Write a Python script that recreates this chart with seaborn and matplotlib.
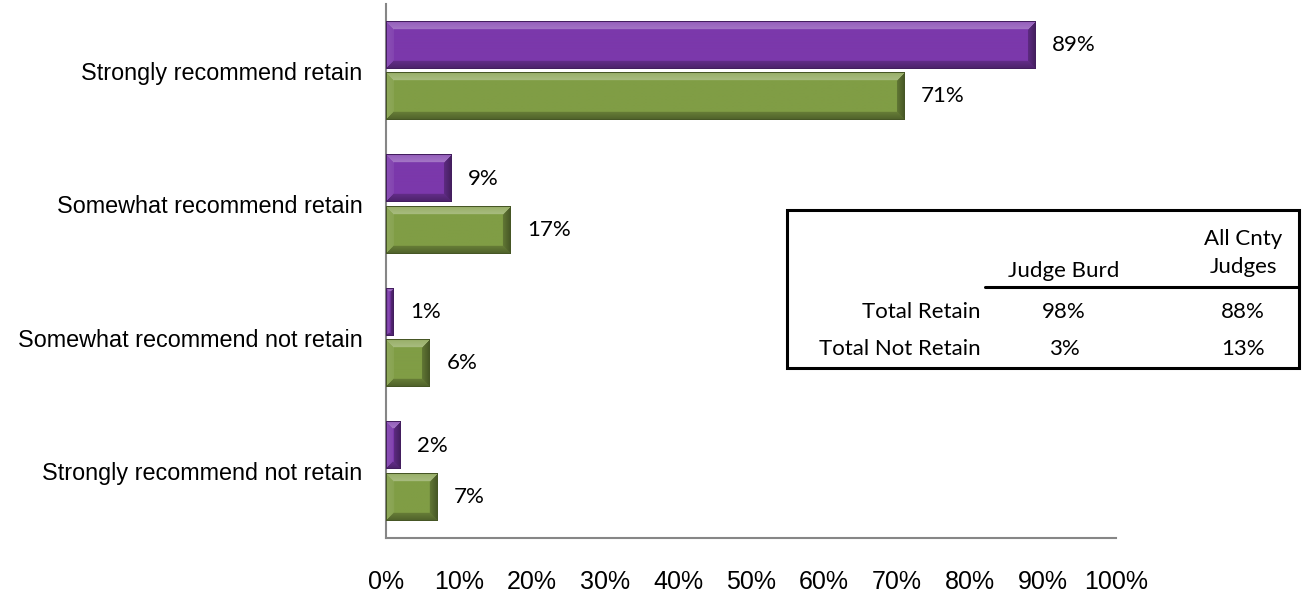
import matplotlib
matplotlib.use("Agg")
import matplotlib.pyplot as plt
import seaborn as sns
import numpy as np
import pandas as pd
from matplotlib.colors import to_rgb
from matplotlib.patches import Rectangle
from matplotlib.lines import Line2D

# ---------------- data ----------------
categories = [
    "Strongly recommend retain",
    "Somewhat recommend retain",
    "Somewhat recommend not retain",
    "Strongly recommend not retain",
]
series = ["Judge Burd", "All Cnty Judges"]
judge_burd = [89, 9, 1, 2]
all_cnty = [71, 17, 6, 7]
x_ticks = [0, 10, 20, 30, 40, 50, 60, 70, 80, 90, 100]

table_rows = ["Total Retain", "Total Not Retain"]
table_cols = ["Judge Burd", "All Cnty\nJudges"]
table_vals = [["98%", "88%"], ["3%", "13%"]]

colors = {"Judge Burd": "#7B38AB", "All Cnty Judges": "#809D45"}

df = pd.DataFrame({
    "category": categories * 2,
    "series": [series[0]] * 4 + [series[1]] * 4,
    "value": judge_burd + all_cnty,
})

W, H = 1307, 595
sns.set_style("white")
plt.rcParams["font.family"] = ["Liberation Sans", "DejaVu Sans"]
plt.rcParams["text.color"] = "black"
plt.rcParams["xtick.color"] = "black"
plt.rcParams["ytick.color"] = "black"

fig = plt.figure(figsize=(W / 100, H / 100), dpi=100)
ax = fig.add_axes([386 / W, 1 - 538 / H, 730 / W, 534 / H])

sns.barplot(data=df, y="category", x="value", hue="series", order=categories,
            hue_order=series, palette=colors, orient="h", width=0.77, gap=0.08,
            legend=False, ax=ax, saturation=1, edgecolor="none")

ax.set_xlim(0, 100)
ax.set_ylim(3.5, -0.5)
ax.set_xticks(x_ticks)
ax.set_xticklabels([f"{t}%" for t in x_ticks], fontsize=18)
ax.tick_params(axis="x", length=0, pad=23, labelcolor="black")
ax.tick_params(axis="y", length=0, pad=17, labelsize=16.8, labelcolor="black")
ax.set_xlabel("")
ax.set_ylabel("")
for s in ["top", "right"]:
    ax.spines[s].set_visible(False)
for s in ["left", "bottom"]:
    ax.spines[s].set_color("#868686")
    ax.spines[s].set_linewidth(1.5)


# bevel look on each bar
def bevel_image(color, wpx, hpx, b=8):
    base = np.array(to_rgb(color))
    hpx = max(int(round(hpx)), 2)
    wpx = max(int(round(wpx)), 2)
    ii, jj = np.mgrid[0:hpx, 0:wpx]
    d = np.stack([ii, hpx - 1 - ii, jj, wpx - 1 - jj])
    facet = d.argmin(axis=0)
    m = d.min(axis=0)
    b = min(b, hpx // 2, wpx // 2)
    img = np.tile(base, (hpx, wpx, 1))
    light = base + (1 - base) * 0.32
    dark = base * 0.62
    left = base + (1 - base) * 0.12
    right = base * 0.55
    shades = [light, dark, left, right]
    for k, sh in enumerate(shades):
        mask = (facet == k) & (m < b)
        t = (m[mask] / max(b, 1))[:, None]
        if k == 0:
            col = sh * (0.6 + 0.4 * t) + base * (0.4 - 0.4 * t)
        else:
            col = sh * (1 - 0.5 * t) + base * 0.5 * t
        img[mask] = col
    # thin dark rim
    rim = m == 0
    img[rim] = base * 0.55
    return np.clip(img, 0, 1)


px_per_x = 730 / 100
px_per_y = 534 / 4
for patch in list(ax.patches):
    x0, y0 = patch.get_x(), patch.get_y()
    w, h = patch.get_width(), patch.get_height()
    if w <= 0:
        continue
    col = patch.get_facecolor()
    img = bevel_image(col[:3], w * px_per_x, h * px_per_y)
    ax.imshow(img, extent=(x0, x0 + w, y0 + h, y0), aspect="auto",
              interpolation="bilinear", zorder=3)
    ax.annotate(f"{w:.0f}%", xy=(x0 + w, y0 + h / 2), xytext=(12, 0),
                textcoords="offset points", va="center", ha="left",
                fontsize=16, family=["Lato", "DejaVu Sans"], color="#000000")

ax.set_xlim(0, 100)
ax.set_ylim(3.5, -0.5)


# summary table
def fx(px):
    return px / W


def fy(py):
    return 1 - py / H


tfont = dict(family=["Lato", "DejaVu Sans"], fontsize=16, color="#000000")
fig.add_artist(Rectangle((fx(787), fy(368)), fx(1299) - fx(787), fy(210) - fy(368),
                         transform=fig.transFigure, fill=False, edgecolor="black",
                         linewidth=2.2))
fig.add_artist(Line2D([fx(985), fx(1299)], [fy(287), fy(287)],
                      transform=fig.transFigure, color="black", linewidth=2.2))
col_x = [1064, 1243]
fig.text(fx(col_x[0]), fy(271), table_cols[0], ha="center", va="center", **tfont)
fig.text(fx(col_x[1]), fy(253), table_cols[1], ha="center", va="center",
         linespacing=1.5, **tfont)
row_y = [312, 349]
for r, lab in enumerate(table_rows):
    fig.text(fx(981), fy(row_y[r]), lab, ha="right", va="center", **tfont)
    for c in range(2):
        fig.text(fx(col_x[c]), fy(row_y[r]), table_vals[r][c], ha="center",
                 va="center", **tfont)

fig.savefig("out.png", dpi=100)
